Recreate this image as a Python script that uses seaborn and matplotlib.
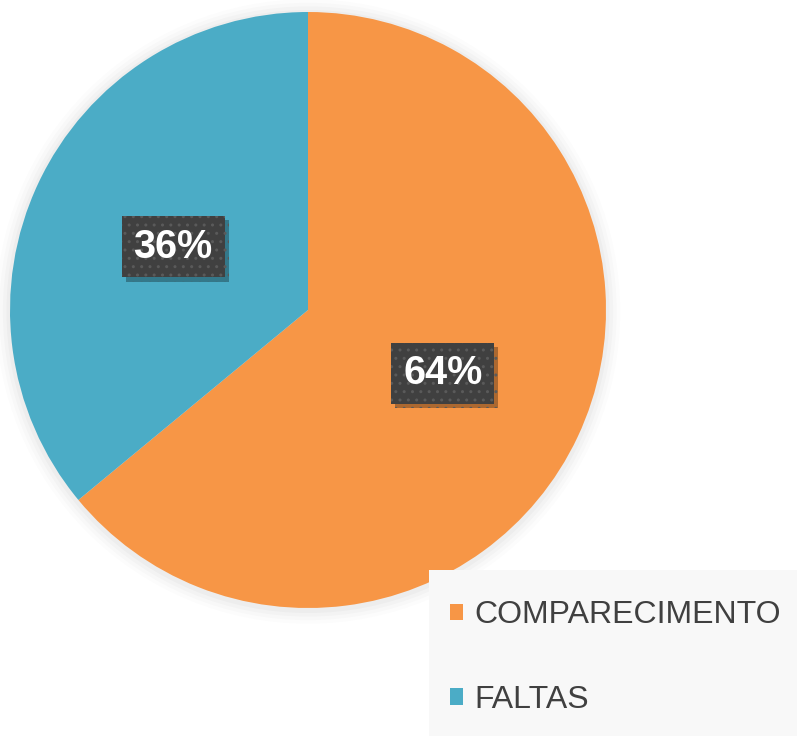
import matplotlib
matplotlib.use("Agg")
import matplotlib.pyplot as plt
import seaborn as sns
from matplotlib.patches import Patch, Rectangle, Circle
import matplotlib.patheffects as pe
import numpy as np

categories = ["COMPARECIMENTO", "FALTAS"]
values = [64, 36]
colors = ["#F79646", "#4BACC6"]

sns.set_theme(style="white")
plt.rcParams['font.family'] = ['Liberation Sans', 'DejaVu Sans']

fig = plt.figure(figsize=(7.97, 7.36), dpi=100)
fig.patch.set_facecolor("white")

W, H = 797, 736
cx, cy, r = 308, 310, 298
ax = fig.add_axes([(cx - r) / W, 1 - (cy + r) / H, 2 * r / W, 2 * r / H])

wedges, texts = ax.pie(values, colors=colors, startangle=90, counterclock=False,
                       radius=1.0, labels=None,
                       wedgeprops=dict(linewidth=0, zorder=1))

# soft shadow around the pie
for i, a in enumerate([0.025, 0.02, 0.015, 0.01]):
    ax.add_patch(Circle((0.0, -0.005), 1.0 + 0.012 * (i + 1), color="black", alpha=a, lw=0, zorder=0, clip_on=False))

ax.set_xlim(-1, 1)
ax.set_ylim(-1, 1)
ax.set_aspect("equal")
ax.axis("off")

# percentage labels
total = sum(values)
ang = 90.0
for v in values:
    frac = v / total
    mid = ang - frac * 360 / 2
    ang -= frac * 360
    x = 0.5 * np.cos(np.radians(mid))
    y = 0.5 * np.sin(np.radians(mid))
    t = ax.text(x, y, f"{round(v / total * 100)}%", ha="center", va="center",
                fontsize=28.5, fontweight="bold", color="white", zorder=5,
                bbox=dict(boxstyle="square,pad=0.3", facecolor="#404040",
                          edgecolor="#5a5a5a", hatch="..", linewidth=0))
    t.get_bbox_patch().set_path_effects([pe.withSimplePatchShadow(offset=(3, -3), shadow_rgbFace="black", alpha=0.3)])

# legend background
fig.patches.append(Rectangle((429 / W, 0), 1 - 429 / W, 1 - 570 / H, transform=fig.transFigure,
                             facecolor="#f8f8f8", edgecolor="none", zorder=0))

handles = [Patch(facecolor=c, edgecolor="none") for c in colors]
leg = fig.legend(handles, categories, loc="upper left",
                 bbox_to_anchor=(450 / W, 1 - 600 / H), bbox_transform=fig.transFigure,
                 frameon=False, fontsize=23, handlelength=0.4, handleheight=0.4,
                 handletextpad=0.35, labelspacing=1.72, borderpad=0, borderaxespad=0)
for txt in leg.get_texts():
    txt.set_color("#404040")

fig.savefig("out.png", dpi=100, facecolor="white")
